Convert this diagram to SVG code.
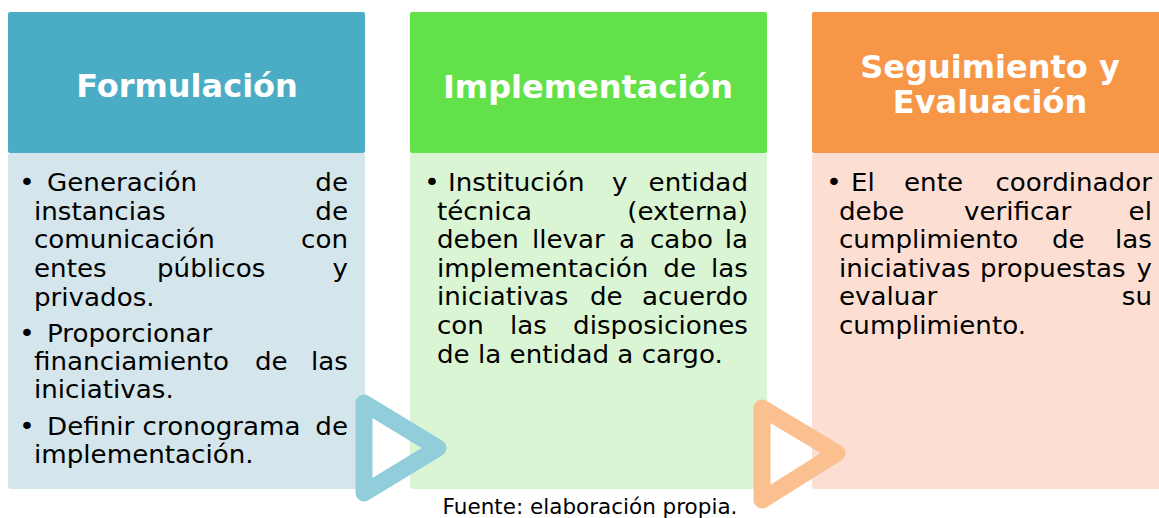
<svg xmlns="http://www.w3.org/2000/svg" width="1159" height="518" viewBox="0 0 1159 518">
<style>
.hd{font-family:"DejaVu Sans",Verdana,sans-serif;font-weight:bold;font-size:32px;fill:#fff;text-anchor:middle}
.bt{font-family:"DejaVu Sans",Verdana,sans-serif;font-size:24px;fill:#000}
.e{text-anchor:end}
.m{text-anchor:middle}
.ft{font-family:"DejaVu Sans",Verdana,sans-serif;font-size:21.5px;fill:#000;text-anchor:middle}
.tri{fill:none;stroke-width:17;stroke-linejoin:round}
</style>
<rect width="1159" height="518" fill="#fff"/>
<g id="formulacion">
<rect x="8" y="153" width="357" height="336" rx="3" fill="#D4E5EC"/>
<rect x="8" y="12" width="357" height="141" rx="2" fill="#4BACC6"/>
<text class="hd" x="187" y="97">Formulación</text>
<g class="bt" transform="scale(1.09 1)">
<text class="m" x="24.77" y="191">•</text>
<text x="43.12" y="191">Generación</text><text class="e" x="319.27" y="191">de</text>
<text x="31.19" y="220">instancias</text><text class="e" x="319.27" y="220">de</text>
<text x="31.19" y="248">comunicación</text><text class="e" x="319.27" y="248">con</text>
<text x="31.19" y="277">entes</text><text x="144.04" y="277">públicos</text><text class="e" x="319.27" y="277">y</text>
<text x="31.19" y="306">privados.</text>
<text class="m" x="24.77" y="342">•</text>
<text x="43.12" y="342">Proporcionar</text>
<text x="31.19" y="370">financiamiento</text><text x="233.94" y="370">de</text><text class="e" x="319.27" y="370">las</text>
<text x="31.19" y="398">iniciativas.</text>
<text class="m" x="24.77" y="435">•</text>
<text x="43.12" y="435">Definir cronograma</text><text class="e" x="319.27" y="435">de</text>
<text x="31.19" y="463">implementación.</text>
</g>
</g>
<g id="implementacion">
<rect x="410" y="153" width="357" height="336" rx="3" fill="#DAF5D3"/>
<rect x="410" y="12" width="357" height="141" rx="2" fill="#62E14A"/>
<text class="hd" x="588" y="98">Implementación</text>
<g class="bt" transform="scale(1.09 1)">
<text class="m" x="396.33" y="191">•</text>
<text x="411.01" y="191">Institución</text><text x="561.47" y="191">y</text><text class="e" x="686.24" y="191">entidad</text>
<text x="400.92" y="220">técnica</text><text class="e" x="686.24" y="220">(externa)</text>
<text x="400.92" y="248">deben</text><text x="488.07" y="248">llevar</text><text x="567.89" y="248">a</text><text x="596.33" y="248">cabo</text><text class="e" x="686.24" y="248">la</text>
<text x="400.92" y="277">implementación</text><text x="608.6" y="277">de</text><text class="e" x="686.24" y="277">las</text>
<text x="400.92" y="305">iniciativas</text><text x="541.28" y="305">de</text><text class="e" x="686.24" y="305">acuerdo</text>
<text x="400.92" y="334">con</text><text x="467.89" y="334">las</text><text class="e" x="686.24" y="334">disposiciones</text>
<text x="400.92" y="363">de la entidad a cargo.</text>
</g>
</g>
<g id="seguimiento">
<rect x="812" y="153" width="350" height="336" rx="3" fill="#FCDED3"/>
<rect x="812" y="12" width="350" height="141" rx="2" fill="#F79646"/>
<text class="hd" x="990" y="78">Seguimiento y</text>
<text class="hd" x="990" y="113">Evaluación</text>
<g class="bt" transform="scale(1.09 1)">
<text class="m" x="765.14" y="191">•</text>
<text x="780.73" y="191">El</text><text x="829.36" y="191">ente</text><text class="e" x="1056.88" y="191">coordinador</text>
<text x="769.72" y="220">debe</text><text x="884.40" y="220">verificar</text><text class="e" x="1056.88" y="220">el</text>
<text x="769.72" y="248">cumplimiento</text><text x="965.14" y="248">de</text><text class="e" x="1056.88" y="248">las</text>
<text x="769.72" y="277">iniciativas</text><text x="899.08" y="277">propuestas</text><text class="e" x="1056.88" y="277">y</text>
<text x="769.72" y="305">evaluar</text><text class="e" x="1056.88" y="305">su</text>
<text x="769.72" y="334">cumplimiento.</text>
</g>
</g>
<g id="connectors">
<polygon class="tri" points="364,403 364,493 438,448" stroke="#92CDDC"/>
<polygon class="tri" points="762,408 762,500 837,453" stroke="#FAC090"/>
</g>
<text class="ft" x="590" y="514">Fuente: elaboración propia.</text>
</svg>
